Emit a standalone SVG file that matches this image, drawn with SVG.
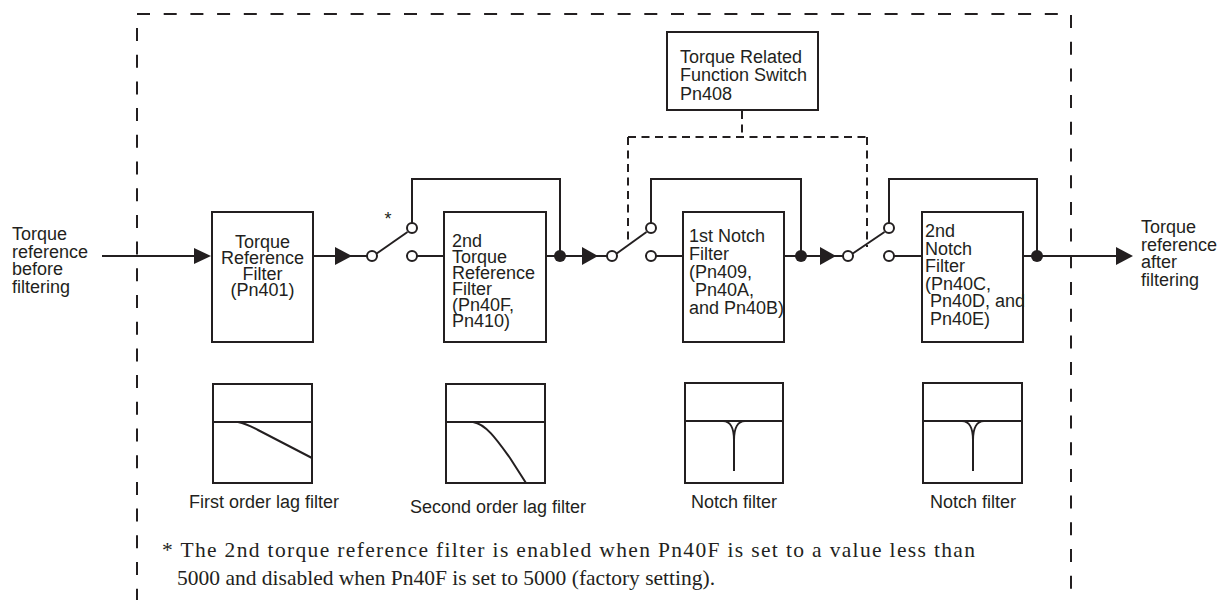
<svg xmlns="http://www.w3.org/2000/svg" width="1221" height="600" viewBox="0 0 1221 600">
<style>
.ln{stroke:#231f20;stroke-width:2;fill:none}
.bx{stroke:#231f20;stroke-width:2;fill:#fff}
.dsh{stroke:#231f20;stroke-width:2;fill:none;stroke-dasharray:13 13.7}
.ctl{stroke:#231f20;stroke-width:2;fill:none;stroke-dasharray:8 5.5}
.oc{stroke:#231f20;stroke-width:2;fill:#fff}
.dot{fill:#231f20}
.ar{fill:#231f20}
.t{font-family:"Liberation Sans",Arial,sans-serif;font-size:18px;fill:#231f20}
.s{font-family:"Liberation Serif","Times New Roman",serif;font-size:21.5px;fill:#231f20}
</style>
<rect width="1221" height="600" fill="#fff"/>
<g id="border">
<line class="dsh" x1="137" y1="14" x2="1071" y2="14"/>
<line class="dsh" x1="137" y1="28" x2="137" y2="600"/>
<line class="dsh" x1="1071" y1="15" x2="1071" y2="592"/>
</g>
<g id="connectors">
<line class="ln" x1="102" y1="256" x2="196" y2="256"/>
<polygon class="ar" points="194,248 211,256 194,264"/>
<line class="ln" x1="313" y1="256" x2="367" y2="256"/>
<polygon class="ar" points="335,247 352,256 335,265"/>
<line class="ln" x1="376" y1="254" x2="407.5" y2="232"/>
<line class="ln" x1="417" y1="256" x2="444" y2="256"/>
<polyline class="ln" points="412,223 412,179 560,179 560,256"/>
<line class="ln" x1="546" y1="256" x2="607" y2="256"/>
<polygon class="ar" points="582,247 598,256 582,265"/>
<line class="ln" x1="616" y1="254" x2="646.5" y2="232"/>
<line class="ln" x1="656" y1="256" x2="683" y2="256"/>
<polyline class="ln" points="651,223 651,179 801,179 801,256"/>
<line class="ln" x1="784" y1="256" x2="843" y2="256"/>
<polygon class="ar" points="820,247 836,256 820,265"/>
<line class="ln" x1="852" y1="254" x2="884.5" y2="232"/>
<line class="ln" x1="894" y1="256" x2="922" y2="256"/>
<polyline class="ln" points="889,223 889,179 1037,179 1037,256"/>
<line class="ln" x1="1023" y1="256" x2="1118" y2="256"/>
<polygon class="ar" points="1116,247 1133,256 1116,265"/>
<circle class="oc" cx="372" cy="256" r="5"/>
<circle class="oc" cx="412" cy="228" r="5"/>
<circle class="oc" cx="412" cy="256" r="5"/>
<circle class="oc" cx="612" cy="256" r="5"/>
<circle class="oc" cx="651" cy="228" r="5"/>
<circle class="oc" cx="651" cy="256" r="5"/>
<circle class="oc" cx="848" cy="256" r="5"/>
<circle class="oc" cx="889" cy="228" r="5"/>
<circle class="oc" cx="889" cy="256" r="5"/>
<circle class="dot" cx="560" cy="256" r="6"/>
<circle class="dot" cx="801" cy="256" r="6"/>
<circle class="dot" cx="1037" cy="256" r="6"/>
<line class="ctl" x1="742" y1="111" x2="742" y2="137"/>
<line class="ctl" x1="628" y1="137" x2="867" y2="137"/>
<line class="ctl" x1="628" y1="137" x2="628" y2="245"/>
<line class="ctl" x1="867" y1="137" x2="867" y2="247"/>
<text class="t" x="388" y="225" text-anchor="middle" font-size="16">*</text>
</g>
<g id="input-label">
<text class="t" x="12" y="240">Torque</text>
<text class="t" x="12" y="257.5">reference</text>
<text class="t" x="12" y="275">before</text>
<text class="t" x="12" y="292.5">filtering</text>
</g>
<g id="output-label">
<text class="t" x="1141" y="233">Torque</text>
<text class="t" x="1141" y="250.5">reference</text>
<text class="t" x="1141" y="268">after</text>
<text class="t" x="1141" y="285.5">filtering</text>
</g>
<g id="switch-pn408">
<rect class="bx" x="667" y="32" width="151" height="78"/>
<text class="t" x="680" y="62.5">Torque Related</text>
<text class="t" x="680" y="81">Function Switch</text>
<text class="t" x="680" y="99.5">Pn408</text>
</g>
<g id="torque-reference-filter">
<rect class="bx" x="212" y="212" width="101" height="130"/>
<text class="t" x="262.5" y="248" text-anchor="middle">Torque</text>
<text class="t" x="262.5" y="264" text-anchor="middle">Reference</text>
<text class="t" x="262.5" y="280" text-anchor="middle">Filter</text>
<text class="t" x="262.5" y="296" text-anchor="middle">(Pn401)</text>
</g>
<g id="second-torque-reference-filter">
<rect class="bx" x="444" y="212" width="102" height="130"/>
<text class="t" x="452" y="247">2nd</text>
<text class="t" x="452" y="263">Torque</text>
<text class="t" x="452" y="279">Reference</text>
<text class="t" x="452" y="295">Filter</text>
<text class="t" x="452" y="311">(Pn40F,</text>
<text class="t" x="452" y="327">Pn410)</text>
</g>
<g id="first-notch-filter">
<rect class="bx" x="683" y="212" width="101" height="130"/>
<text class="t" x="689" y="242">1st Notch</text>
<text class="t" x="689" y="260">Filter</text>
<text class="t" x="689" y="278">(Pn409,</text>
<text class="t" x="695" y="296">Pn40A,</text>
<text class="t" x="689" y="314">and Pn40B)</text>
</g>
<g id="second-notch-filter">
<rect class="bx" x="922" y="212" width="101" height="130"/>
<text class="t" x="925" y="237">2nd</text>
<text class="t" x="925" y="254.5">Notch</text>
<text class="t" x="925" y="272">Filter</text>
<text class="t" x="925" y="289.5">(Pn40C,</text>
<text class="t" x="930" y="307">Pn40D, and</text>
<text class="t" x="930" y="324.5">Pn40E)</text>
</g>
<g id="graph-first-order">
<rect class="bx" x="213" y="384" width="99" height="99"/>
<line class="ln" x1="213" y1="422" x2="312" y2="422"/>
<path class="ln" d="M238,422 C247,424 252,427 258,430 L312,458"/>
<text class="t" x="264" y="508" text-anchor="middle">First order lag filter</text>
</g>
<g id="graph-second-order">
<rect class="bx" x="446" y="384" width="99" height="99"/>
<line class="ln" x1="446" y1="422" x2="545" y2="422"/>
<path class="ln" d="M473,422 C486,424 497,440 510,458 L526,483"/>
<text class="t" x="498" y="513" text-anchor="middle">Second order lag filter</text>
</g>
<g id="graph-notch-1">
<rect class="bx" x="685" y="383" width="98" height="100"/>
<line class="ln" x1="685" y1="421" x2="783" y2="421"/>
<path class="ln" d="M723,421 C730,421 734,428 734,440 L734,471 M745,421 C738,421 734,428 734,440"/>
<text class="t" x="734" y="508" text-anchor="middle">Notch filter</text>
</g>
<g id="graph-notch-2">
<rect class="bx" x="923" y="383" width="99" height="100"/>
<line class="ln" x1="923" y1="421" x2="1022" y2="421"/>
<path class="ln" d="M962,421 C969,421 973,428 973,440 L973,471 M984,421 C977,421 973,428 973,440"/>
<text class="t" x="973" y="508" text-anchor="middle">Notch filter</text>
</g>
<g id="footnote">
<text class="s" x="162" y="557" textLength="813" lengthAdjust="spacing">* The 2nd torque reference filter is enabled when Pn40F is set to a value less than</text>
<text class="s" x="177" y="585">5000 and disabled when Pn40F is set to 5000 (factory setting).</text>
</g>
</svg>
